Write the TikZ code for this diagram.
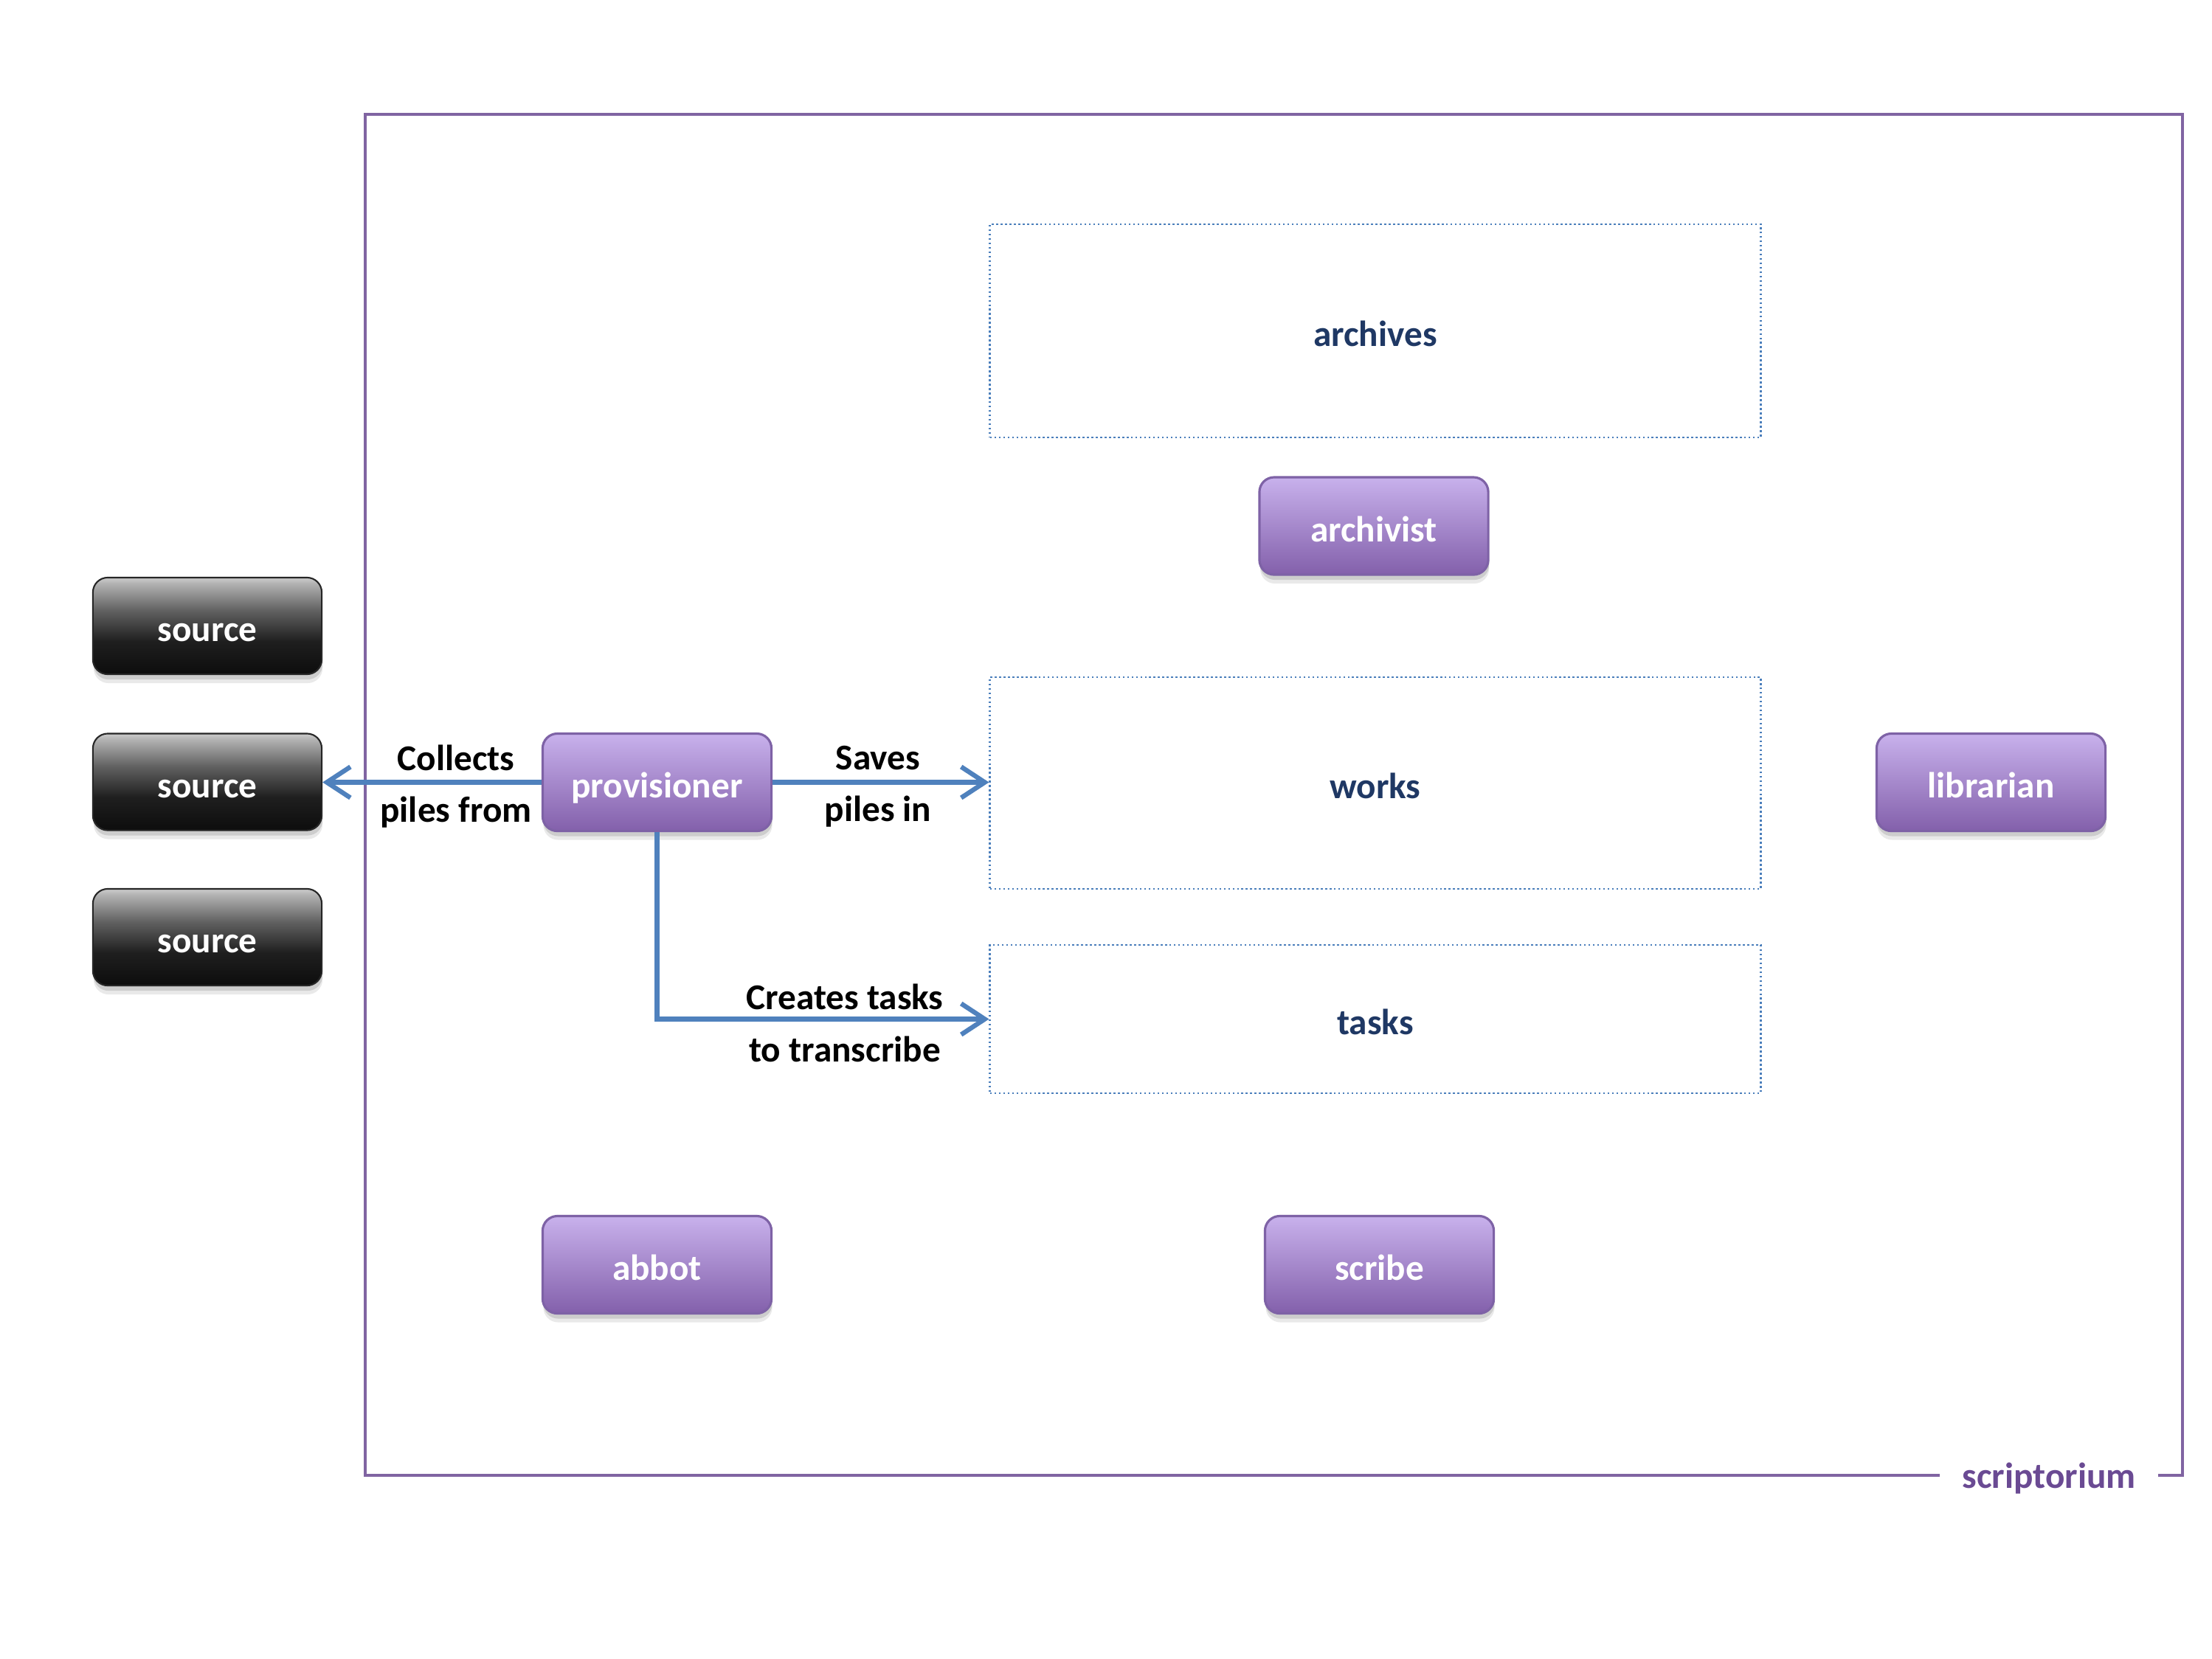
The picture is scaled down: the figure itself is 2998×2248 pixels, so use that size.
\documentclass[tikz,border=0pt]{standalone}
\usepackage{fontspec}
\setmainfont{Carlito}
\usetikzlibrary{arrows.meta,shadows}
\definecolor{purpTop}{HTML}{C8B1EC}
\definecolor{purpBot}{HTML}{8360AB}
\definecolor{purpLine}{HTML}{7E62A6}
\definecolor{frameCol}{HTML}{8064A2}
\definecolor{scrCol}{HTML}{6A4A93}
\definecolor{arrowCol}{HTML}{4F81BD}
\definecolor{storeText}{HTML}{1F3864}
\definecolor{dotCol}{HTML}{4A7EBB}
\pgfdeclareverticalshading{srcshade}{100bp}{color(0bp)=(black!95); color(25bp)=(black!95); color(42bp)=(black!88); color(58bp)=(black!62); color(72bp)=(black!30); color(75bp)=(black!20); color(100bp)=(black!20)}
\newcommand{\boxfont}{\bfseries\fontsize{14}{20}\selectfont}
\tikzset{
  softshadow/.style={
    drop shadow={shadow xshift=0.01cm, shadow yshift=-0.12cm, opacity=0.12, fill=black!70},
    drop shadow={shadow xshift=0.01cm, shadow yshift=-0.07cm, opacity=0.18, fill=black!70}},
  actor/.style={rectangle, rounded corners=0.2cm, draw=purpLine, line width=0.9pt,
    top color=purpTop, bottom color=purpBot, minimum width=3.1cm, minimum height=1.32cm,
    text=white, font=\boxfont, text height=12pt, text depth=0pt, softshadow},
  srcbox/.style={rectangle, rounded corners=0.2cm, draw=black!85, line width=0.6pt,
    shading=srcshade, minimum width=3.1cm, minimum height=1.31cm,
    text=white, font=\boxfont, text height=12pt, text depth=0pt, softshadow},
  store/.style={rectangle, draw=dotCol, densely dotted, line width=0.7pt,
    text=storeText, font=\boxfont, text height=12pt, text depth=0pt},
  flow/.style={draw=arrowCol, line width=1.8pt, -{Straight Barb[length=0.32cm, width=0.42cm]}},
  lab/.style={font=\boxfont, align=center, text=black, inner sep=0pt}
}
\begin{document}
\begin{tikzpicture}[x=0.01cm, y=-0.01cm]
\useasboundingbox (0,0) rectangle (2998,2248);
% frame
\draw[frameCol, line width=1pt] (495,155) rectangle (2958,2000);
\node[fill=white, inner xsep=0.3cm, inner ysep=2pt, text=scrCol, font=\boxfont, text height=10pt, text depth=0pt] (scr) at (2777,2000) {scriptorium};
% stores
\node[store, minimum width=10.44cm, minimum height=2.89cm] (archives) at (1864,448.5) {archives};
\node[store, minimum width=10.44cm, minimum height=2.87cm] (works) at (1864,1061.5) {works};
\node[store, minimum width=10.44cm, minimum height=2.01cm] (tasks) at (1864,1381.5) {tasks};
% sources
\node[srcbox] (src1) at (281,848.5) {source};
\node[srcbox] (src2) at (281,1060) {source};
\node[srcbox] (src3) at (281,1270.5) {source};
% actors
\node[actor] (prov) at (890.5,1060.5) {provisioner};
\node[actor] (archivist) at (1862,713) {archivist};
\node[actor] (librarian) at (2698.5,1060.5) {librarian};
\node[actor] (abbot) at (890.5,1714.5) {abbot};
\node[actor] (scribe) at (1869.5,1714.5) {scribe};
% connectors
\draw[flow] (prov.west) -- (prov.west -| src2.east);
\draw[flow] (prov.east) -- (prov.east -| works.west);
\draw[flow] (prov.south) |- (tasks.west);
% labels
\node[lab] (lcollect) at (618,1066) {Collects\\piles from};
\node[lab] (lsave) at (1190,1066) {Saves\\piles in};
\node[lab] (ltask) at (1145,1387) {Creates tasks\\to transcribe};
\end{tikzpicture}
\end{document}
